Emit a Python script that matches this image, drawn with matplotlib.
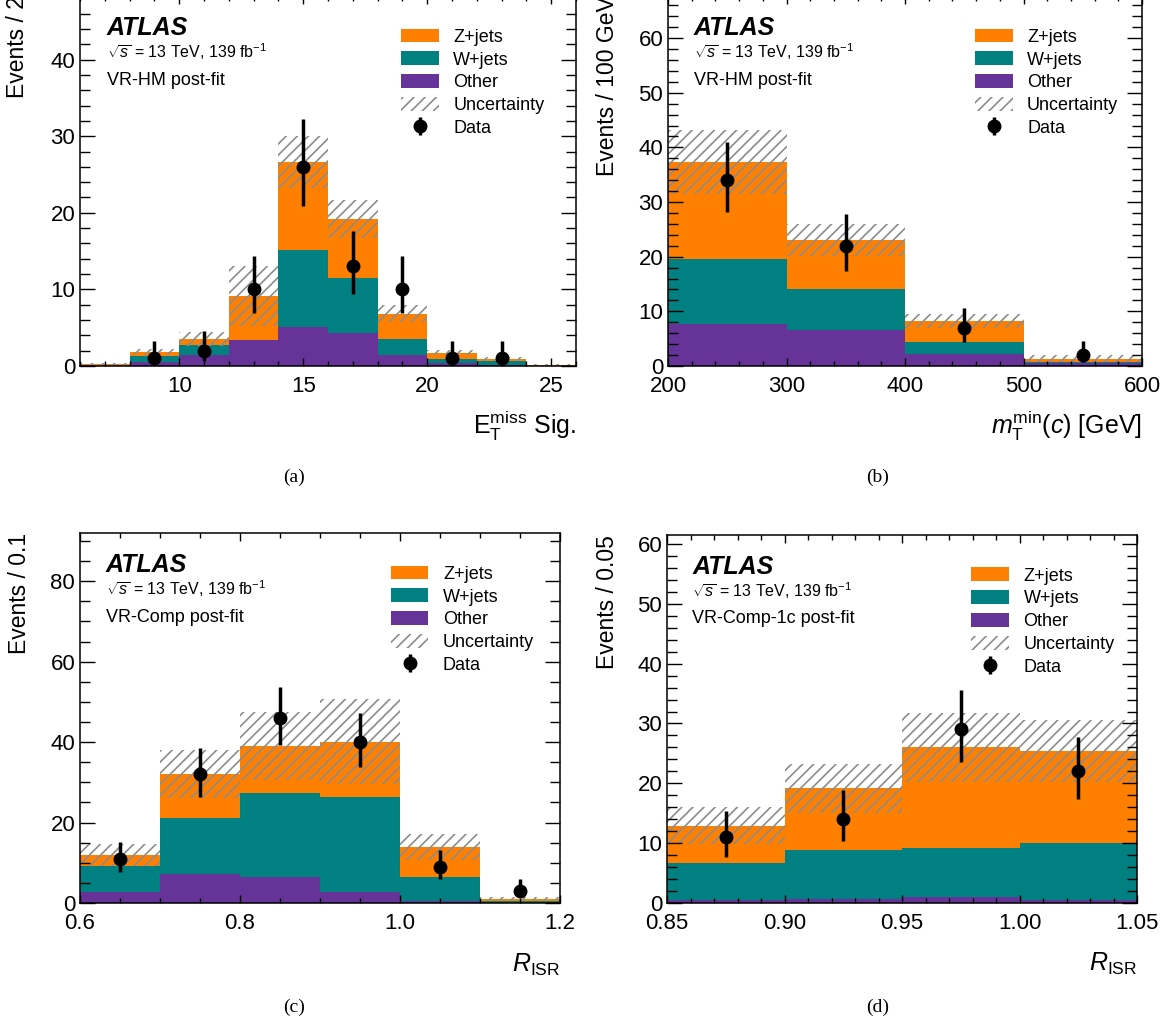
import numpy as np
import matplotlib
matplotlib.use("Agg")
import matplotlib.pyplot as plt
from matplotlib.patches import Patch
from matplotlib.ticker import MultipleLocator, FormatStrFormatter

plt.rcParams["font.family"] = ["Liberation Sans", "DejaVu Sans"]
plt.rcParams["mathtext.fontset"] = "custom"
plt.rcParams["mathtext.rm"] = "Liberation Sans"
plt.rcParams["mathtext.it"] = "Liberation Sans:italic"
plt.rcParams["mathtext.bf"] = "Liberation Sans:bold"
plt.rcParams["hatch.linewidth"] = 1.2

C_Z = "#ff8000"
C_W = "#008080"
C_OTHER = "#663399"
C_UNC = "#8c8c8c"

# (a) MET significance, VR-HM
edges_a = [6, 8, 10, 12, 14, 16, 18, 20, 22, 24, 26]
other_a = [0.0, 0.5, 1.5, 3.4, 5.1, 4.3, 1.5, 0.45, 0.15, 0.0]
wjets_a = [0.1, 0.8, 1.2, 0.0, 10.1, 7.2, 2.0, 0.45, 0.55, 0.05]
zjets_a = [0.1, 0.55, 0.85, 5.7, 11.4, 7.7, 3.35, 0.85, 0.2, 0.1]
unc_a = [0.25, 0.35, 0.95, 3.9, 3.4, 2.5, 1.15, 0.35, 0.3, 0.1]
data_a = [np.nan, 1, 2, 10, 26, 13, 10, 1, 1, np.nan]
data_up_a = [0, 2.3, 2.6, 4.3, 6.2, 4.6, 4.3, 2.3, 2.3, 0]
data_dn_a = [0, 0.8, 1.3, 3.1, 5.1, 3.6, 3.1, 0.8, 0.8, 0]

# (b) mT min(c), VR-HM
edges_b = [200, 300, 400, 500, 600]
other_b = [7.7, 6.5, 2.25, 0.6]
wjets_b = [11.9, 7.6, 2.15, 0.2]
zjets_b = [17.7, 9.0, 3.8, 0.55]
unc_b = [5.8, 2.9, 1.3, 0.6]
data_b = [34, 22, 7, 2]
data_up_b = [6.9, 5.8, 3.7, 2.6]
data_dn_b = [5.8, 4.7, 2.6, 1.3]

# (c) R_ISR, VR-Comp
edges_c = [0.6, 0.7, 0.8, 0.9, 1.0, 1.1, 1.2]
other_c = [2.7, 7.3, 6.4, 2.7, 0.6, 0.05]
wjets_c = [6.4, 13.8, 20.9, 23.6, 5.8, 0.35]
zjets_c = [2.9, 10.9, 11.7, 13.8, 7.5, 0.7]
unc_c = [2.7, 6.0, 8.4, 10.6, 3.3, 0.3]
data_c = [11, 32, 46, 40, 9, 3]
data_up_c = [4.1, 6.5, 7.8, 7.3, 4.1, 2.9]
data_dn_c = [3.3, 5.6, 6.8, 6.3, 3.0, 1.6]

# (d) R_ISR, VR-Comp-1c
edges_d = [0.85, 0.90, 0.95, 1.00, 1.05]
other_d = [0.55, 0.67, 1.0, 0.55]
wjets_d = [6.15, 8.23, 8.2, 9.55]
zjets_d = [6.2, 10.3, 16.8, 15.3]
unc_d = [3.1, 4.1, 5.8, 5.2]
data_d = [11, 14, 29, 22]
data_up_d = [4.3, 4.9, 6.6, 5.8]
data_dn_d = [3.3, 3.7, 5.4, 4.7]


def draw_panel(ax, edges, other, wjets, zjets, unc, data, up, dn, region,
               xlabel, ylabel, ylim, xticks, yticks, xfmt):
    edges = np.asarray(edges, dtype=float)
    lo = edges[:-1]
    width = np.diff(edges)
    centers = lo + width / 2
    other = np.asarray(other)
    wjets = np.asarray(wjets)
    zjets = np.asarray(zjets)
    unc = np.asarray(unc)
    total = other + wjets + zjets

    # stacked backgrounds, then the hatched band around the total
    ax.bar(lo, other, width=width, align="edge", color=C_OTHER, linewidth=0)
    ax.bar(lo, wjets, width=width, bottom=other, align="edge", color=C_W, linewidth=0)
    ax.bar(lo, zjets, width=width, bottom=other + wjets, align="edge", color=C_Z, linewidth=0)
    ax.bar(lo, 2 * unc, width=width, bottom=total - unc, align="edge", fill=False,
           hatch="///", edgecolor=C_UNC, linewidth=0)

    data = np.asarray(data, dtype=float)
    m = ~np.isnan(data)
    err = [np.asarray(dn)[m], np.asarray(up)[m]]
    eb = ax.errorbar(centers[m], data[m], yerr=err, fmt="o", color="black",
                     ms=9, elinewidth=2.5, capsize=0, zorder=5)

    ax.set_xlim(edges[0], edges[-1])
    ax.set_ylim(0, ylim)
    ax.xaxis.set_major_locator(MultipleLocator(xticks[0]))
    ax.xaxis.set_minor_locator(MultipleLocator(xticks[1]))
    ax.yaxis.set_major_locator(MultipleLocator(yticks[0]))
    ax.yaxis.set_minor_locator(MultipleLocator(yticks[1]))
    if xfmt:
        ax.xaxis.set_major_formatter(FormatStrFormatter(xfmt))
    ax.tick_params(axis="both", which="both", direction="in", top=True, right=True,
                   labelsize=16, width=1)
    ax.tick_params(axis="y", which="major", length=11)
    ax.tick_params(axis="y", which="minor", length=7)
    ax.tick_params(axis="x", which="major", length=6, pad=7)
    ax.tick_params(axis="x", which="minor", length=3.5)
    for s in ax.spines.values():
        s.set_linewidth(1.1)

    ax.set_ylabel(ylabel, fontsize=16.5, loc="top")
    ax.yaxis.set_label_coords(-0.103, 1.0)
    ax.set_xlabel(xlabel, fontsize=18, loc="right")
    ax.xaxis.label.set_va("baseline")
    ax.xaxis.set_label_coords(1.0, -0.185)

    ax.text(0.054, 0.913, "ATLAS", transform=ax.transAxes, fontsize=18,
            fontweight="bold", fontstyle="italic", va="center")
    ax.text(0.054, 0.849, r"$\sqrt{s}$ = 13 TeV, 139 fb$^{-1}$", transform=ax.transAxes,
            fontsize=11.5, va="center")
    ax.text(0.054, 0.772, region, transform=ax.transAxes, fontsize=13, va="center")

    handles = [Patch(facecolor=C_Z, linewidth=0),
               Patch(facecolor=C_W, linewidth=0),
               Patch(facecolor=C_OTHER, linewidth=0),
               Patch(facecolor="none", edgecolor=C_UNC, hatch="///", linewidth=0),
               eb]
    labels = ["Z+jets", "W+jets", "Other", "Uncertainty", "Data"]
    ax.legend(handles, labels, loc="upper left", bbox_to_anchor=(0.647, 0.912),
              frameon=False, fontsize=13, handlelength=2.1, handleheight=0.8,
              handletextpad=0.8, labelspacing=0.31, borderaxespad=0, borderpad=0)


fig = plt.figure(figsize=(11.75, 10.27), dpi=100)
W, H = 1175.0, 1027.0


def px_axes(left, right, top, bottom):
    return fig.add_axes([left / W, 1 - bottom / H, (right - left) / W, (bottom - top) / H])


ax_a = px_axes(80, 576, -4, 366)
ax_b = px_axes(668, 1142, -4, 366)
ax_c = px_axes(80, 560, 533, 903)
ax_d = px_axes(667, 1137, 535, 903)

draw_panel(ax_a, edges_a, other_a, wjets_a, zjets_a, unc_a, data_a, data_up_a, data_dn_a,
           "VR-HM post-fit", r"E$_{\mathrm{T}}^{\mathrm{miss}}$ Sig.", "Events / 2",
           48.3, (5, 1), (10, 2), None)
draw_panel(ax_b, edges_b, other_b, wjets_b, zjets_b, unc_b, data_b, data_up_b, data_dn_b,
           "VR-HM post-fit", r"$m_{\mathrm{T}}^{\mathrm{min}}(c)$ [GeV]", "Events / 100 GeV",
           67.7, (100, 20), (10, 2), None)
draw_panel(ax_c, edges_c, other_c, wjets_c, zjets_c, unc_c, data_c, data_up_c, data_dn_c,
           "VR-Comp post-fit", r"$R_{\mathrm{ISR}}$", "Events / 0.1",
           92, (0.2, 0.05), (20, 5), "%.1f")
draw_panel(ax_d, edges_d, other_d, wjets_d, zjets_d, unc_d, data_d, data_up_d, data_dn_d,
           "VR-Comp-1c post-fit", r"$R_{\mathrm{ISR}}$", "Events / 0.05",
           61.5, (0.05, 0.01), (10, 2), "%.2f")

for lab, x, y in [("(a)", 294, 477), ("(b)", 878, 477), ("(c)", 294, 1007), ("(d)", 878, 1007)]:
    fig.text(x / W, 1 - y / H, lab, family=["Liberation Serif", "DejaVu Serif"],
             fontsize=14, ha="center", va="center")

fig.savefig("out.png", dpi=100)
